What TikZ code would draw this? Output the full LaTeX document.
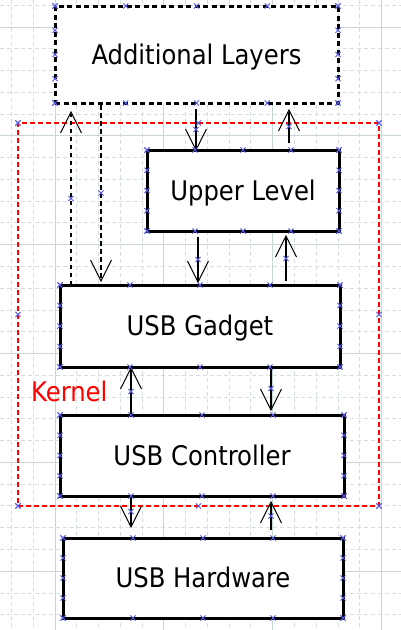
\documentclass[tikz,border=0pt]{standalone}
\usepackage{fontspec}
\setmainfont{DejaVu Sans Condensed}
\usetikzlibrary{arrows.meta,calc}
\definecolor{gridminor}{RGB}{212,224,222}
\definecolor{gridmajor}{RGB}{200,214,212}
\definecolor{markblue}{RGB}{85,85,230}
\pgfdeclarearrow{
  name=VBarb,
  parameters={\the\pgfarrowlength,\the\pgfarrowwidth},
  setup code={
    \pgfarrowssettipend{0pt}
    \pgfarrowssetlineend{-1.5pt}
    \pgfarrowssetbackend{-\pgfarrowlength}
    \pgfarrowssavethe\pgfarrowlength
    \pgfarrowssavethe\pgfarrowwidth
  },
  drawing code={
    \pgfsetdash{}{0pt}
    \pgfsetlinewidth{1pt}
    \pgfsetmiterjoin
    \pgfpathmoveto{\pgfqpoint{-\pgfarrowlength}{.5\pgfarrowwidth}}
    \pgfpathlineto{\pgfpointorigin}
    \pgfpathlineto{\pgfqpoint{-\pgfarrowlength}{-.5\pgfarrowwidth}}
    \pgfusepathqstroke
  },
  defaults={length=21pt, width=21pt}
}
\begin{document}
\begin{tikzpicture}[x=1pt,y=-1pt,
  lbl/.style={font=\fontsize{27}{32}\selectfont},
  box/.style={lbl, rectangle, draw=black, line width=3pt, fill=white, inner sep=0pt,
    outer sep=0pt, text height=19.7pt, text depth=0pt},
  dbox/.style={box, dash pattern=on 5pt off 3.5pt},
  kbox/.style={rectangle, draw=red, line width=2.5pt, dash pattern=on 5pt off 3pt,
    inner sep=0pt, outer sep=0pt},
  arr/.style={line width=2.5pt, -{VBarb[length=21pt,width=21pt]}},
  darr/.style={arr, dash pattern=on 4.5pt off 3.5pt},
  gminor/.style={gridminor, line width=1pt, dash pattern=on 4pt off 3pt},
  gmajor/.style={gridmajor, line width=1pt},
  cx/.pic={\draw[markblue, line width=0.8pt, solid] (-2.6,-2.6)--(2.6,2.6) (-2.6,2.6)--(2.6,-2.6);}
]
\useasboundingbox (0,0) rectangle (401,630);
\fill[white] (0,0) rectangle (401,630);
% grid
\foreach \i in {-2,...,16} \draw[gminor] ({55+\i*21.77},0) -- ({55+\i*21.77},630);
\foreach \j in {-1,...,27} \draw[gminor] (0,{27+\j*21.77}) -- (401,{27+\j*21.77});
\foreach \i in {0,5,10,15} \draw[gmajor] ({55+\i*21.77},0) -- ({55+\i*21.77},630);
\foreach \j in {0,5,10,15,20,25} \draw[gmajor] (0,{27+\j*21.77}) -- (401,{27+\j*21.77});

% kernel
\node[kbox, minimum width=361pt, minimum height=383pt] (kern) at (198.5,314.5) {};
\node[lbl, text=red, anchor=base west, inner sep=0pt] (klabel) at (31,401) {Kernel};

% boxes
\node[dbox, minimum width=283pt, minimum height=97pt] (al) at (196.5,54.5) {Additional Layers};
\node[box, minimum width=192pt, minimum height=81pt] (ul) at (243,190.5) {Upper Level};
\node[box, minimum width=280pt, minimum height=82pt] (gad) at (200,326) {USB Gadget};
\node[box, minimum width=284pt, minimum height=81pt] (ctl) at (202,455.5) {USB Controller};
\node[box, minimum width=280pt, minimum height=80pt] (hw) at (203,578) {USB Hardware};

% connector ends
\coordinate (a1s) at (gad.north -| 71,0);
\coordinate (a1e) at ($(al.south -| 71,0)+(0,9)$);
\coordinate (a2s) at ($(al.south -| 101,0)+(0,2)$);
\coordinate (a2e) at ($(gad.north -| 101,0)+(0,-4)$);
\coordinate (a3s) at ($(al.south -| 196,0)+(0,6)$);
\coordinate (a3e) at (ul.north -| 196,0);
\coordinate (a4s) at ($(ul.north -| 289,0)+(0,-7)$);
\coordinate (a4e) at ($(al.south -| 289,0)+(0,7)$);
\coordinate (a5s) at ($(ul.south -| 198,0)+(0,6)$);
\coordinate (a5e) at ($(gad.north -| 198,0)+(0,-3)$);
\coordinate (a6s) at ($(gad.north -| 286,0)+(0,-4)$);
\coordinate (a6e) at ($(ul.south -| 286,0)+(0,5)$);
\coordinate (a7s) at (gad.south -| 271,0);
\coordinate (a7e) at ($(ctl.north -| 271,0)+(0,-5)$);
\coordinate (a8s) at (ctl.north -| 131,0);
\coordinate (a8e) at ($(gad.south -| 131,0)+(0,1)$);
\coordinate (a9s) at (ctl.south -| 131,0);
\coordinate (a9e) at ($(hw.north -| 131,0)+(0,-11)$);
\coordinate (a10s) at ($(hw.north -| 271,0)+(0,-8)$);
\coordinate (a10e) at ($(ctl.south -| 271,0)+(0,6)$);

\draw[darr] (a1s) -- (a1e);
\draw[darr] (a2s) -- (a2e);
\foreach \k in {3,...,10} \draw[arr] (a\k s) -- (a\k e);

% connection point markers
\foreach \n in {al,ul,gad,ctl,hw}{
  \foreach \f in {0,0.25,0.5,0.75,1}{
    \pic at ($(\n.north west)!\f!(\n.north east)$) {cx};
    \pic at ($(\n.south west)!\f!(\n.south east)$) {cx};
    \pic at ($(\n.north west)!\f!(\n.south west)$) {cx};
    \pic at ($(\n.north east)!\f!(\n.south east)$) {cx};
  }
}
\foreach \f in {0,0.5,1}{
  \pic at ($(kern.north west)!\f!(kern.north east)$) {cx};
  \pic at ($(kern.south west)!\f!(kern.south east)$) {cx};
  \pic at ($(kern.north west)!\f!(kern.south west)$) {cx};
  \pic at ($(kern.north east)!\f!(kern.south east)$) {cx};
}
\foreach \k in {1,...,10} \pic at ($(a\k s)!0.5!(a\k e)$) {cx};
\end{tikzpicture}
\end{document}
